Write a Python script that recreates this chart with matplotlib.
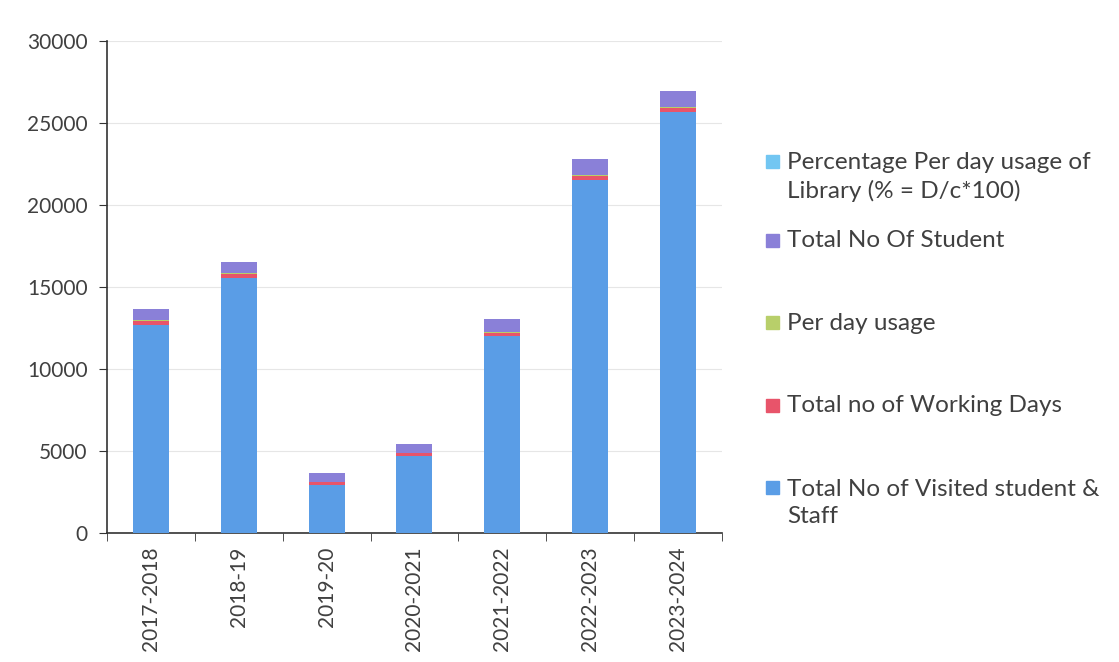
import numpy as np
import matplotlib.pyplot as plt
from matplotlib.patches import Rectangle

plt.rcParams["font.family"] = ["Lato", "DejaVu Sans"]

years = ["2017-2018", "2018-19", "2019-20", "2020-2021", "2021-2022", "2022-2023", "2023-2024"]
visited = [12700, 15550, 2930, 4700, 12000, 21500, 25650]
working_days = [250, 250, 150, 150, 200, 250, 250]
per_day = [51, 62, 20, 31, 60, 86, 103]
students = [650, 650, 560, 550, 800, 950, 950]
percentage = [8, 10, 4, 6, 8, 9, 11]

series = [
    ("Total No of Visited student &\nStaff", visited, "#5a9de6"),
    ("Total no of Working Days", working_days, "#e8546a"),
    ("Per day usage", per_day, "#b8cf6a"),
    ("Total No Of Student", students, "#8a80d8"),
    ("Percentage Per day usage of\nLibrary (% = D/c*100)", percentage, "#72c6f2"),
]

text_color = "#404040"
fig = plt.figure(figsize=(11.19, 6.62), dpi=100)
ax = fig.add_axes([0.0956, 0.195, 0.5495, 0.743])

x = np.arange(len(years))
bottom = np.zeros(len(years))
for label, vals, color in series:
    vals = np.array(vals, dtype=float)
    ax.bar(x, vals, 0.41, bottom=bottom, color=color, zorder=3)
    bottom += vals

ax.set_xlim(-0.5, len(years) - 0.5)
ax.set_ylim(0, 30000)
ax.set_yticks(np.arange(0, 30001, 5000))
ax.set_xticks(x)
ax.set_xticklabels(years, rotation=90, fontsize=15, color=text_color)
ax.set_xticks(np.arange(-0.5, len(years)), minor=True)
ax.tick_params(axis="x", which="major", length=0, pad=10)
ax.tick_params(axis="x", which="minor", length=6, color="#333333", direction="out")
ax.tick_params(axis="y", labelsize=15, colors=text_color, length=6, direction="out", pad=8)
ax.tick_params(axis="y", color="#333333")
ax.yaxis.grid(True, color="#e6e6e6", linewidth=0.8, zorder=0)
for side in ["top", "right"]:
    ax.spines[side].set_visible(False)
for side in ["left", "bottom"]:
    ax.spines[side].set_color("#333333")
    ax.spines[side].set_linewidth(1.2)

# legend drawn by hand, Excel-like spacing
legend_y = [0.732, 0.636, 0.512, 0.387, 0.240]
for (label, vals, color), ly in zip(series[::-1], legend_y):
    nlines = label.count("\n") + 1
    first_line_y = ly + (nlines - 1) * 0.0234
    fig.add_artist(Rectangle((0.6845, first_line_y - 0.0095), 0.0116, 0.0196,
                             transform=fig.transFigure, color=color))
    fig.text(0.7035, ly, label, fontsize=17.5, color=text_color,
             va="center", ha="left", linespacing=1.38)

fig.savefig("out.png", dpi=100)
